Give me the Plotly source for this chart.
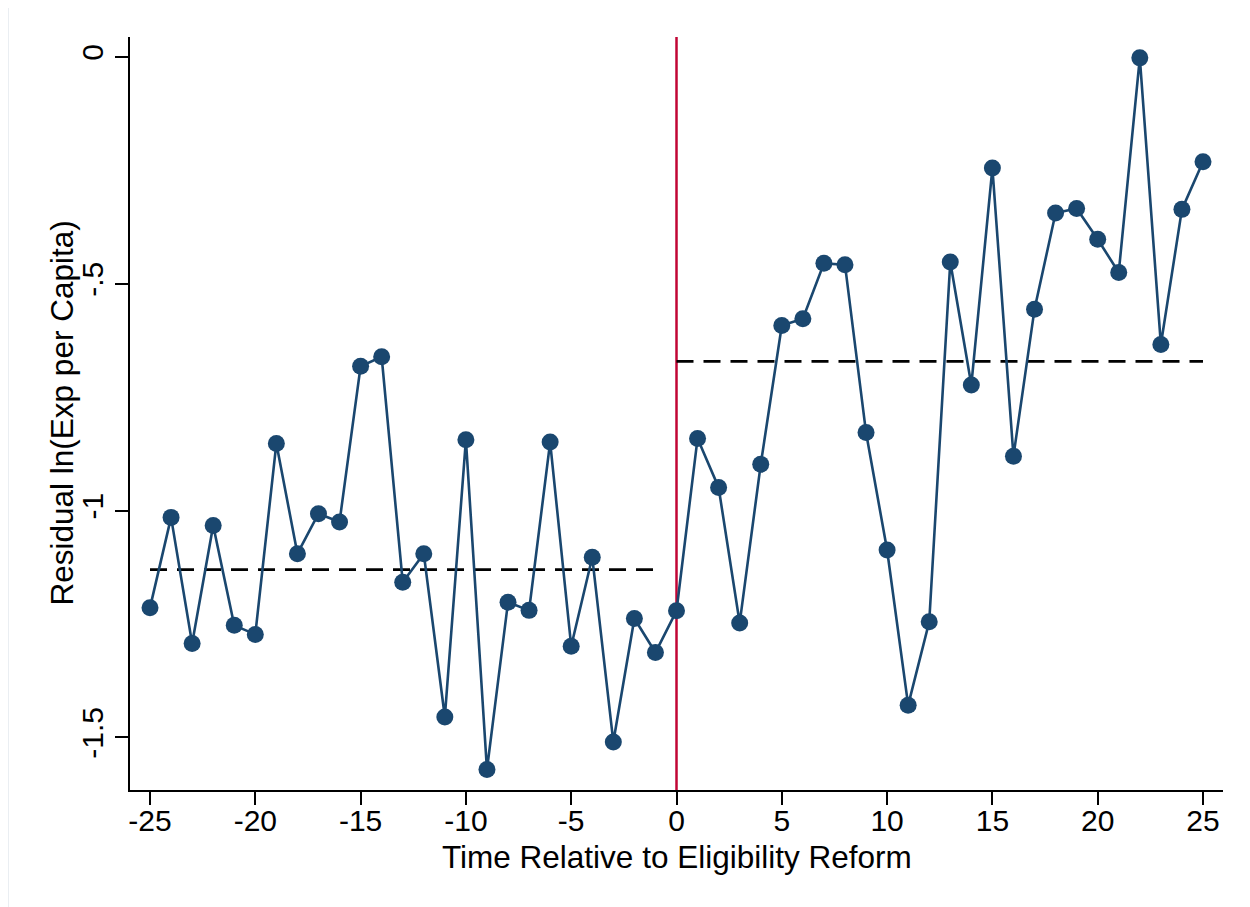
import plotly.graph_objects as go

# Data
time_rel = list(range(-25, 26))
residual = [
    -1.214, -1.015, -1.293, -1.033, -1.253, -1.273, -0.852, -1.095, -1.007, -1.025,
    -0.682, -0.661, -1.158, -1.095, -1.455, -0.844, -1.571, -1.202, -1.220, -0.849,
    -1.299, -1.103, -1.510, -1.238, -1.313,
    -1.221,
    -0.841, -0.949, -1.248, -0.898, -0.592, -0.577, -0.455, -0.458, -0.828, -1.087,
    -1.429, -1.245, -0.452, -0.723, -0.245, -0.880, -0.556, -0.344, -0.334, -0.402,
    -0.475, -0.002, -0.634, -0.336, -0.231,
]
pre_span = [-25, -1]
pre_mean = -1.130
post_span = [0, 25]
post_mean = -0.671
reform_time = 0

x_ticks = [-25, -20, -15, -10, -5, 0, 5, 10, 15, 20, 25]
y_ticks = [0, -0.5, -1, -1.5]
y_tick_text = ["0", "-.5", "-1", "-1.5"]

x_title = "Time Relative to Eligibility Reform"
y_title = "Residual ln(Exp per Capita)"

NAVY = "#1a476f"
CRAN = "#c10534"
FONT = "Liberation Sans, Arial, Helvetica, sans-serif"

fig = go.Figure()

fig.add_trace(go.Scatter(
    x=pre_span, y=[pre_mean, pre_mean], mode="lines",
    line=dict(color="black", width=2.8, dash="17px,10px"),
    hoverinfo="skip", showlegend=False,
))
fig.add_trace(go.Scatter(
    x=post_span, y=[post_mean, post_mean], mode="lines",
    line=dict(color="black", width=2.8, dash="17px,10px"),
    hoverinfo="skip", showlegend=False,
))
fig.add_trace(go.Scatter(
    x=time_rel, y=residual, mode="lines+markers",
    line=dict(color=NAVY, width=2.6),
    marker=dict(color=NAVY, size=17, line=dict(width=0)),
    showlegend=False,
))

fig.add_shape(type="line", xref="x", yref="paper",
              x0=reform_time, x1=reform_time, y0=0, y1=1,
              line=dict(color=CRAN, width=2.5), layer="below")

# light outer frame of the graph region
fig.add_shape(type="rect", xref="paper", yref="paper",
              x0=-0.1116, x1=1.03, y0=-0.16, y1=1.0425,
              line=dict(color="#e4eaee", width=1.5), fillcolor="rgba(0,0,0,0)",
              layer="below")

# axis titles as annotations for exact placement
fig.add_annotation(text=x_title, xref="paper", yref="paper", x=0.5, y=0,
                   yshift=-67, xanchor="center", yanchor="middle", showarrow=False,
                   font=dict(size=31.5, family=FONT, color="black"))
fig.add_annotation(text=y_title, xref="paper", yref="paper", x=0, y=0.5,
                   xshift=-69, xanchor="center", yanchor="middle", showarrow=False,
                   textangle=-90,
                   font=dict(size=31.5, family=FONT, color="black"))

# page body has an 8px margin; compensate so the plot area lands where it should
fig.update_layout(
    width=1250, height=907,
    margin=dict(l=122, r=35, t=29, b=125, autoexpand=False),
    paper_bgcolor="white", plot_bgcolor="white",
    font=dict(family=FONT, color="black", size=30),
    showlegend=False,
)

fig.update_xaxes(
    range=[-25.95, 25.95],
    tickvals=x_ticks, ticktext=[str(v) for v in x_ticks],
    ticks="outside", ticklen=13, tickwidth=1.8, tickcolor="black",
    ticklabelstandoff=-10,
    showline=True, linecolor="black", linewidth=2,
    showgrid=False, zeroline=False,
    tickfont=dict(size=30, family=FONT),
)
fig.update_yaxes(
    range=[-1.616, 0.044],
    tickvals=y_ticks, ticktext=y_tick_text,
    tickangle=-90,
    ticks="outside", ticklen=13, tickwidth=1.8, tickcolor="black",
    showline=True, linecolor="black", linewidth=2,
    showgrid=False, zeroline=False,
    tickfont=dict(size=30, family=FONT),
)

fig.write_html("out.html")
